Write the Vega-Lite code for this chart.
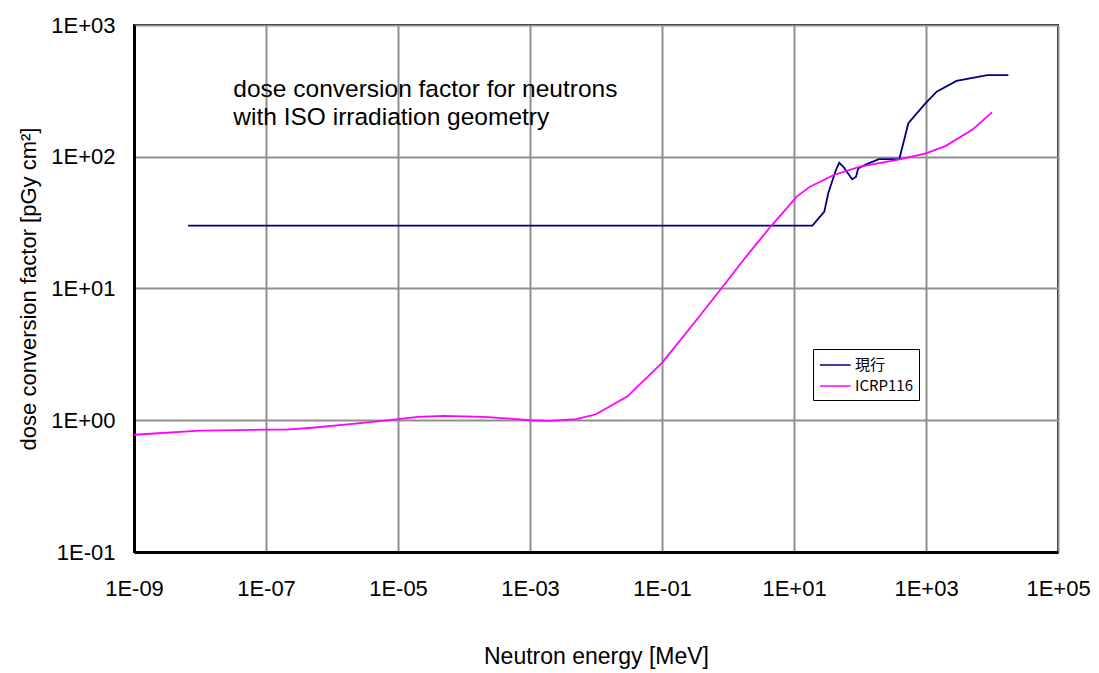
{
  "$schema": "https://vega.github.io/schema/vega-lite/v6.json",
  "width": 924,
  "height": 527,
  "autosize": "none",
  "padding": {"left": 134, "top": 25, "right": 41, "bottom": 121},
  "background": "white",
  "config": {
    "font": "Liberation Sans",
    "view": {"stroke": "black", "strokeWidth": 2},
    "axis": {
      "domainColor": "black",
      "domainWidth": 3,
      "gridColor": "#8f8f8f",
      "gridWidth": 2,
      "gridOpacity": 1,
      "ticks": false,
      "labelColor": "black",
      "labelFont": "Liberation Sans",
      "labelFontSize": 22,
      "titleColor": "black",
      "titleFont": "Liberation Sans",
      "titleFontSize": 22,
      "titleFontWeight": "normal"
    }
  },
  "layer": [
    {
      "data": {
        "values": [
          {"series": "現行", "energy": 6.6e-9, "factor": 30},
          {"series": "現行", "energy": 1e-7, "factor": 30},
          {"series": "現行", "energy": 1e-5, "factor": 30},
          {"series": "現行", "energy": 1e-3, "factor": 30},
          {"series": "現行", "energy": 1e-1, "factor": 30},
          {"series": "現行", "energy": 1, "factor": 30},
          {"series": "現行", "energy": 19, "factor": 30},
          {"series": "現行", "energy": 28.8, "factor": 38.3},
          {"series": "現行", "energy": 33, "factor": 52.8},
          {"series": "現行", "energy": 43, "factor": 79},
          {"series": "現行", "energy": 48.5, "factor": 90},
          {"series": "現行", "energy": 56, "factor": 84},
          {"series": "現行", "energy": 76, "factor": 67.4},
          {"series": "現行", "energy": 87, "factor": 70.6},
          {"series": "現行", "energy": 94, "factor": 81.6},
          {"series": "現行", "energy": 126, "factor": 88},
          {"series": "現行", "energy": 194, "factor": 96},
          {"series": "現行", "energy": 394, "factor": 96},
          {"series": "現行", "energy": 540, "factor": 179.5},
          {"series": "現行", "energy": 950, "factor": 250},
          {"series": "現行", "energy": 1450, "factor": 312},
          {"series": "現行", "energy": 2900, "factor": 376},
          {"series": "現行", "energy": 8500, "factor": 417},
          {"series": "現行", "energy": 17700, "factor": 417},
          {"series": "ICRP116", "energy": 1e-9, "factor": 0.776},
          {"series": "ICRP116", "energy": 1e-8, "factor": 0.834},
          {"series": "ICRP116", "energy": 1e-7, "factor": 0.848},
          {"series": "ICRP116", "energy": 2e-7, "factor": 0.85},
          {"series": "ICRP116", "energy": 5e-7, "factor": 0.877},
          {"series": "ICRP116", "energy": 1.7e-6, "factor": 0.93},
          {"series": "ICRP116", "energy": 5e-6, "factor": 0.98},
          {"series": "ICRP116", "energy": 1e-5, "factor": 1.02},
          {"series": "ICRP116", "energy": 2e-5, "factor": 1.06},
          {"series": "ICRP116", "energy": 5e-5, "factor": 1.08},
          {"series": "ICRP116", "energy": 2e-4, "factor": 1.06},
          {"series": "ICRP116", "energy": 5e-4, "factor": 1.03},
          {"series": "ICRP116", "energy": 1e-3, "factor": 1.0},
          {"series": "ICRP116", "energy": 2e-3, "factor": 0.99},
          {"series": "ICRP116", "energy": 5e-3, "factor": 1.02},
          {"series": "ICRP116", "energy": 1e-2, "factor": 1.11},
          {"series": "ICRP116", "energy": 3e-2, "factor": 1.52},
          {"series": "ICRP116", "energy": 0.1, "factor": 2.73},
          {"series": "ICRP116", "energy": 0.3, "factor": 5.4},
          {"series": "ICRP116", "energy": 0.76, "factor": 9.75},
          {"series": "ICRP116", "energy": 1.7, "factor": 16.4},
          {"series": "ICRP116", "energy": 4.4, "factor": 29.4},
          {"series": "ICRP116", "energy": 11, "factor": 49.8},
          {"series": "ICRP116", "energy": 17.5, "factor": 59.3},
          {"series": "ICRP116", "energy": 40, "factor": 72.7},
          {"series": "ICRP116", "energy": 100, "factor": 84},
          {"series": "ICRP116", "energy": 400, "factor": 95.6},
          {"series": "ICRP116", "energy": 1000, "factor": 106},
          {"series": "ICRP116", "energy": 2000, "factor": 121},
          {"series": "ICRP116", "energy": 5000, "factor": 160},
          {"series": "ICRP116", "energy": 10000, "factor": 217}
        ]
      },
      "mark": {"type": "line", "strokeWidth": 1.8, "clip": true},
      "encoding": {
        "x": {
          "field": "energy",
          "type": "quantitative",
          "title": "Neutron energy [MeV]",
          "scale": {"type": "log", "domain": [1e-9, 1e5], "nice": false},
          "axis": {
            "values": [1e-9, 1e-7, 1e-5, 1e-3, 1e-1, 10, 1000, 100000],
            "labelExpr": "'1E' + (round(log(datum.value)/LN10) < 0 ? '-' : '+') + (abs(round(log(datum.value)/LN10)) < 10 ? '0' : '') + abs(round(log(datum.value)/LN10))",
            "labelPadding": 26,
            "titlePadding": 46,
            "titleFontSize": 23,
            "labelFlush": false
          }
        },
        "y": {
          "field": "factor",
          "type": "quantitative",
          "title": "dose conversion factor [pGy cm²]",
          "scale": {"type": "log", "domain": [0.1, 1000], "nice": false},
          "axis": {
            "values": [0.1, 1, 10, 100, 1000],
            "labelExpr": "'1E' + (round(log(datum.value)/LN10) < 0 ? '-' : '+') + (abs(round(log(datum.value)/LN10)) < 10 ? '0' : '') + abs(round(log(datum.value)/LN10))",
            "labelPadding": 19,
            "titlePadding": 10,
            "labelFlush": false
          }
        },
        "color": {
          "field": "series",
          "type": "nominal",
          "sort": ["現行", "ICRP116"],
          "scale": {"domain": ["現行", "ICRP116"], "range": ["#000080", "#ff00ff"]},
          "legend": {
            "title": null,
            "orient": "none",
            "legendX": 679,
            "legendY": 324,
            "fillColor": "white",
            "strokeColor": "black",
            "padding": 6,
            "cornerRadius": 0,
            "symbolType": "M-1,0H2.4",
            "symbolSize": 324,
            "symbolStrokeWidth": 1.5,
            "labelFont": "Noto Sans CJK JP",
            "labelFontSize": 15,
            "labelColor": "black",
            "labelOffset": 16,
            "rowPadding": 3
          }
        }
      }
    },
    {
      "data": {"values": [{}]},
      "mark": {
        "type": "text",
        "text": ["dose conversion factor for neutrons", "with ISO irradiation geometry"],
        "align": "left",
        "baseline": "alphabetic",
        "font": "Liberation Sans",
        "fontSize": 24.5,
        "lineHeight": 28.5,
        "color": "black"
      },
      "encoding": {
        "x": {"datum": 3.2e-8, "type": "quantitative"},
        "y": {"datum": 285, "type": "quantitative"}
      }
    }
  ]
}
